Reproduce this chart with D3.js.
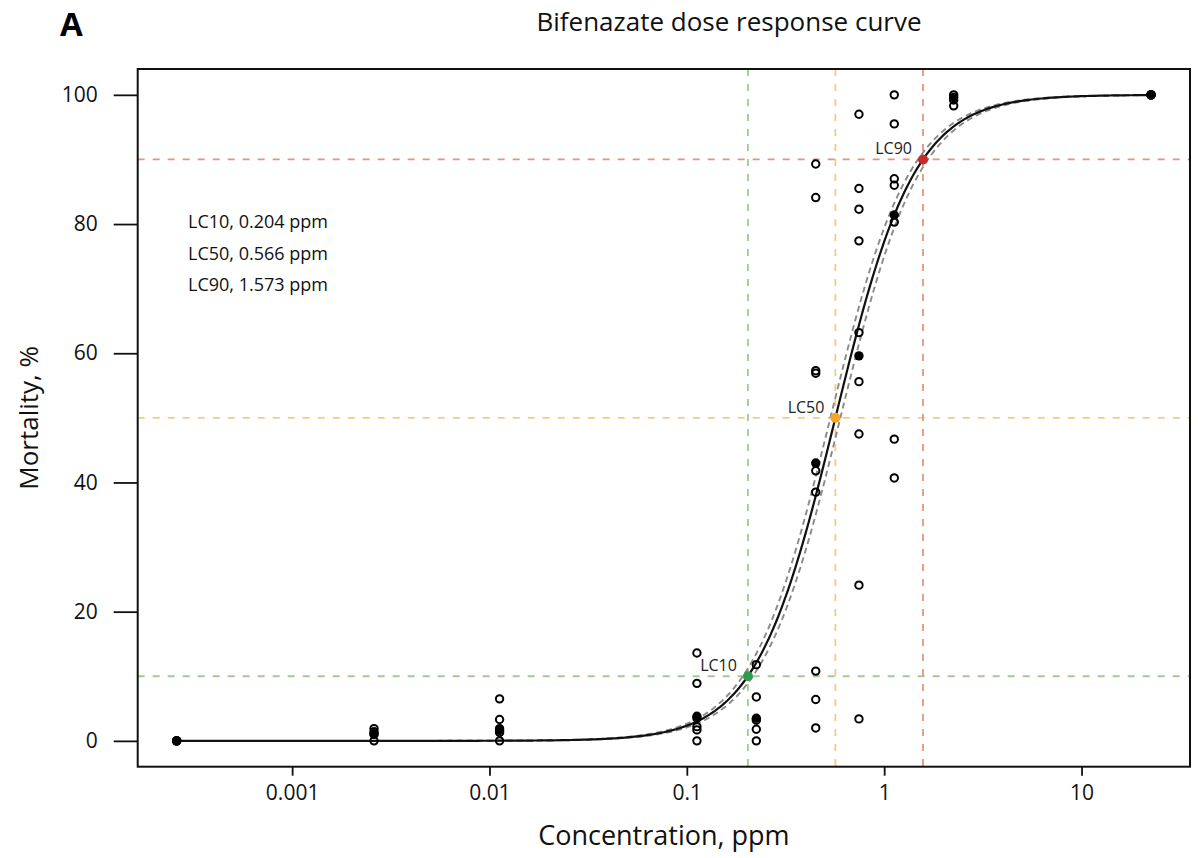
<!DOCTYPE html>
<html>
<head>
<meta charset="utf-8">
<script src="https://cdn.jsdelivr.net/npm/d3@7"></script>
<style>
  html, body { margin: 0; padding: 0; background: #fff; }
  svg { display: block; font-family: "Open Sans", "Noto Sans", sans-serif; }
</style>
</head>
<body>
<svg id="chart" width="1198" height="858"></svg>
<script>
// Test concentrations (ppm) and observed mortality (%) per replicate
const concentrations = [0.00026, 0.0026, 0.01125, 0.1125, 0.225, 0.45, 0.745, 1.125, 2.25, 22.5];
const replicateMortality = [
  [0, 0, 0],
  [0, 1.0, 1.4, 1.9],
  [0, 1.3, 1.9, 3.3, 6.5],
  [0, 1.7, 2.2, 3.5, 8.9, 13.6],
  [0, 1.8, 3.2, 6.8, 11.8],
  [2.0, 6.4, 10.8, 38.5, 41.8, 56.9, 57.3, 84.1, 89.3],
  [3.4, 24.1, 47.5, 55.6, 63.2, 77.4, 82.3, 85.5, 97.0],
  [40.7, 46.7, 80.3, 86.0, 87.0, 95.5, 100],
  [98.3, 99.2, 100],
  [100, 100, 100]
];
const meanMortality = [0, 1.1, 1.6, 3.8, 3.5, 43.0, 59.6, 81.4, 99.6, 100];

// Lethal concentrations from the fitted log-logistic model
const lcNames = ["LC10", "LC50", "LC90"];
const lcLevels = [10, 50, 90];
const lcValues = [0.204, 0.566, 1.573];
const lcColors = ["#2e9b4e", "#f6a623", "#c62a2a"];
const lcLineColors = ["#a3c996", "#fcc97c", "#e39580"];

const xTicks = [0.001, 0.01, 0.1, 1, 10];
const xTickLabels = ["0.001", "0.01", "0.1", "1", "10"];
const yTicks = [0, 20, 40, 60, 80, 100];

const svg = d3.select("#chart");
const plot = { left: 137.7, right: 1190, top: 69, bottom: 766.7 };

// R-style 4% padding around the data range
const logMin = Math.log10(d3.min(concentrations));
const logMax = Math.log10(d3.max(concentrations));
const pad = (logMax - logMin) * 0.04;
const x = d3.scaleLog()
  .domain([Math.pow(10, logMin - pad), Math.pow(10, logMax + pad)])
  .range([plot.left, plot.right]);
const y = d3.scaleLinear()
  .domain([-4, 104])
  .range([plot.bottom, plot.top]);

// Log-logistic fit defined by LC50 and LC90
const lc50 = lcValues[1], lc90 = lcValues[2];
const slope = Math.log(9) / Math.log(lc90 / lc50);
const fit = (c, shift = 1) => 100 / (1 + Math.exp(-slope * (Math.log(c * shift) - Math.log(lc50))));

const g = svg.append("g");

// Reference lines at the LC levels and LC concentrations
lcLevels.forEach((lvl, i) => {
  g.append("line")
    .attr("x1", plot.left).attr("x2", plot.right)
    .attr("y1", y(lvl)).attr("y2", y(lvl))
    .attr("stroke", lcLineColors[i]).attr("stroke-width", 1.8)
    .attr("stroke-dasharray", "7,8");
  g.append("line")
    .attr("x1", x(lcValues[i])).attr("x2", x(lcValues[i]))
    .attr("y1", plot.top).attr("y2", plot.bottom)
    .attr("stroke", lcLineColors[i]).attr("stroke-width", 1.8)
    .attr("stroke-dasharray", "7,8");
});

// Fitted curve and its confidence band
const curveX = d3.range(0, 401).map(k => Math.pow(10, logMin + (logMax - logMin) * k / 400));
const line = d3.line().x(d => x(d[0])).y(d => y(d[1]));
[1.06, 1 / 1.06].forEach(s => {
  g.append("path")
    .attr("d", line(curveX.map(c => [c, fit(c, s)])))
    .attr("fill", "none").attr("stroke", "#8a8a8a").attr("stroke-width", 1.9)
    .attr("stroke-dasharray", "6,4");
});
g.append("path")
  .attr("d", line(curveX.map(c => [c, fit(c)])))
  .attr("fill", "none").attr("stroke", "#111").attr("stroke-width", 2.2);

// Observations
const obs = [];
concentrations.forEach((c, i) => replicateMortality[i].forEach(m => obs.push([c, m])));
g.selectAll("circle.obs").data(obs).join("circle")
  .attr("class", "obs")
  .attr("cx", d => x(d[0])).attr("cy", d => y(d[1])).attr("r", 3.7)
  .attr("fill", "none").attr("stroke", "#000").attr("stroke-width", 2);
g.selectAll("circle.mean").data(concentrations).join("circle")
  .attr("class", "mean")
  .attr("cx", d => x(d)).attr("cy", (d, i) => y(meanMortality[i])).attr("r", 4.7)
  .attr("fill", "#000");

// LC points and labels
lcValues.forEach((v, i) => {
  g.append("circle")
    .attr("cx", x(v)).attr("cy", y(lcLevels[i])).attr("r", 5)
    .attr("fill", lcColors[i]);
  g.append("text")
    .attr("x", x(v) - 11).attr("y", y(lcLevels[i]) - 5)
    .attr("text-anchor", "end").attr("font-size", 16).attr("fill", "#222")
    .text(lcNames[i]);
});

// Summary text
lcNames.forEach((n, i) => {
  g.append("text")
    .attr("x", 188).attr("y", 228 + i * 31.7)
    .attr("font-size", 18).attr("fill", "#111")
    .text(`${n}, ${lcValues[i].toFixed(3)} ppm`);
});

// Axes
const xAxis = d3.axisBottom(x).tickValues(xTicks)
  .tickFormat((d, i) => xTickLabels[i]).tickSize(9).tickPadding(9);
const yAxis = d3.axisLeft(y).tickValues(yTicks).tickSize(24).tickPadding(16);

const gx = svg.append("g").attr("transform", `translate(0,${plot.bottom})`).call(xAxis);
const gy = svg.append("g").attr("transform", `translate(${plot.left},0)`).call(yAxis);
[gx, gy].forEach(a => {
  a.select(".domain").remove();
  a.selectAll("line").attr("stroke", "#111").attr("stroke-width", 1.8);
  a.selectAll("text").attr("font-size", 21).attr("fill", "#111")
    .attr("font-family", "\"Open Sans\", sans-serif");
});

// Frame
svg.append("rect")
  .attr("x", plot.left).attr("y", plot.top)
  .attr("width", plot.right - plot.left).attr("height", plot.bottom - plot.top)
  .attr("fill", "none").attr("stroke", "#111").attr("stroke-width", 2);

// Titles
svg.append("text").attr("x", 729).attr("y", 31)
  .attr("text-anchor", "middle").attr("font-size", 26).attr("fill", "#111")
  .text("Bifenazate dose response curve");
svg.append("text").attr("x", 60).attr("y", 36)
  .attr("font-size", 33).attr("font-weight", "bold").attr("fill", "#000")
  .text("A");
svg.append("text").attr("x", (plot.left + plot.right) / 2).attr("y", 845)
  .attr("text-anchor", "middle").attr("font-size", 27).attr("fill", "#111")
  .text("Concentration, ppm");
svg.append("text")
  .attr("transform", `translate(38,${(plot.top + plot.bottom) / 2}) rotate(-90)`)
  .attr("text-anchor", "middle").attr("font-size", 26).attr("fill", "#111")
  .text("Mortality, %");
</script>
</body>
</html>
